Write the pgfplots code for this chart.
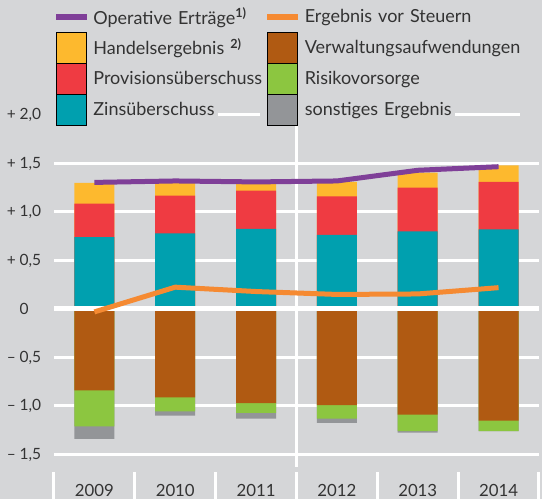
\documentclass[border=0pt]{standalone}
\usepackage{fontspec}
\setmainfont{Lato}
\usepackage{pgfplots}
\pgfplotsset{compat=1.18}
\definecolor{bg}{HTML}{D5D6D8}
\definecolor{cPurple}{HTML}{7F3F98}
\definecolor{cOrange}{HTML}{F58A32}
\definecolor{cYellow}{HTML}{FDB92E}
\definecolor{cBrown}{HTML}{B05A12}
\definecolor{cRed}{HTML}{EF3B42}
\definecolor{cGreen}{HTML}{8CC640}
\definecolor{cTeal}{HTML}{00A0AF}
\definecolor{cGray}{HTML}{939598}
\definecolor{txt}{HTML}{333333}
\pgfplotsset{
  swatch/.style={legend image code/.code={\fill (0pt,-15.35pt) rectangle (30pt,15.35pt);}},
  lineimg/.style={legend image code/.code={\fill (0pt,-2.5pt) rectangle (30pt,2.5pt);}},
  segbar/.style={ybar, bar width=40pt, bar shift=0pt, fill=#1, draw=none, forget plot},
}
\begin{document}
\begin{tikzpicture}
\fill[bg] (-54pt,0pt) rectangle (488pt,499pt);
\begin{axis}[
  at={(0pt,0pt)}, anchor=south west,
  scale only axis, width=485pt, height=499pt,
  xmin=-0.5, xmax=5.5, ymin=-1.9588, ymax=3.1856,
  axis line style={draw=none},
  xtick={0,...,5}, xticklabels={2009,2010,2011,2012,2013,2014},
  minor xtick={-0.5,0.5,...,5.5},
  ytick={-1.5,-1,-0.5,0,0.5,1,1.5},
  yticklabels={{– 1,5},{– 1,0},{– 0,5},0,{+ 0,5},{+ 1,0},{+ 1,5}},
  extra y ticks={2}, extra y tick labels={+ 2{,}0}, extra y tick style={grid=none},
  ymajorgrids, major grid style={white, line width=3pt},
  major tick length=0pt, minor tick length=27pt, tick align=inside,
  minor tick style={white, line width=3pt},
  xtick pos=bottom, ytick pos=left,
  xticklabel style={font=\fontsize{16.8}{20}\selectfont, text=txt, anchor=base, inner sep=0pt, yshift=2.5pt},
  yticklabel style={font=\fontsize{15.5}{18}\selectfont, text=txt, anchor=center, xshift=-30pt},
  legend columns=2,
  legend style={at={(rel axis cs:0.0041,0.9973)}, anchor=north west, fill=none, draw=none,
    inner sep=0pt, outer sep=0pt, row sep=0pt, font=\fontsize{18}{21}\selectfont, text=txt,
    cells={anchor=west},
    nodes={inner sep=0pt, text width=174pt, minimum height=30.7pt, align=left},
    /tikz/every odd column/.append style={column sep=7pt},
    /tikz/every even column/.append style={column sep=0pt},
    /tikz/column 4/.style={nodes={text width=235pt}}},
]
% positive stacks (cumulative tops)
\addplot[segbar=cYellow] coordinates {(0,1.30) (1,1.31) (2,1.29) (3,1.31) (4,1.405) (5,1.48)};
\addplot[segbar=cRed] coordinates {(0,1.085) (1,1.17) (2,1.22) (3,1.16) (4,1.25) (5,1.31)};
\addplot[segbar=cTeal] coordinates {(0,0.74) (1,0.78) (2,0.825) (3,0.765) (4,0.80) (5,0.82)};
% negative stacks (cumulative bottoms)
\addplot[segbar=cGray] coordinates {(0,-1.34) (1,-1.10) (2,-1.13) (3,-1.175) (4,-1.275) (5,-1.26)};
\addplot[segbar=cGreen] coordinates {(0,-1.21) (1,-1.055) (2,-1.07) (3,-1.13) (4,-1.26) (5,-1.26)};
\addplot[segbar=cBrown] coordinates {(0,-0.84) (1,-0.91) (2,-0.97) (3,-0.99) (4,-1.09) (5,-1.15)};
% decorative white lines
\addplot[white, line width=3pt, mark=none, forget plot] coordinates {(2.5,-1.63) (2.5,1.91)};
\addplot[white, line width=5pt, mark=none, forget plot] coordinates {(-0.5,0) (5.5,0)};
\addplot[white, line width=3pt, mark=none, forget plot] coordinates {(1.529,2) (2.049,2)};
\addplot[white, line width=3pt, mark=none, forget plot] coordinates {(4.461,2) (5.265,2)};
% lines
\addplot[cPurple, line width=5pt, line join=round, mark=none, forget plot] coordinates {(0,1.305) (1,1.32) (2,1.31) (3,1.32) (4,1.43) (5,1.467)};
\addplot[cOrange, line width=5pt, line join=round, mark=none, forget plot] coordinates {(0,-0.03) (1,0.225) (2,0.18) (3,0.15) (4,0.155) (5,0.22)};
% legend
\addlegendimage{lineimg, cPurple}
\addlegendentry{Operative Erträge\textsuperscript{\textbf{1)}}}
\addlegendimage{lineimg, cOrange}
\addlegendentry{Ergebnis vor Steuern}
\addlegendimage{swatch, fill=cYellow}
\addlegendentry{Handelsergebnis \textsuperscript{\textbf{2)}}}
\addlegendimage{swatch, fill=cBrown}
\addlegendentry{Verwaltungsaufwendungen}
\addlegendimage{swatch, fill=cRed}
\addlegendentry{Provisionsüberschuss}
\addlegendimage{swatch, fill=cGreen}
\addlegendentry{Risikovorsorge}
\addlegendimage{swatch, fill=cTeal}
\addlegendentry{Zinsüberschuss}
\addlegendimage{swatch, fill=cGray}
\addlegendentry{sonstiges Ergebnis}
\end{axis}
\pgfresetboundingbox
\path[use as bounding box] (-54pt,0pt) rectangle (488pt,499pt);
\end{tikzpicture}
\end{document}
